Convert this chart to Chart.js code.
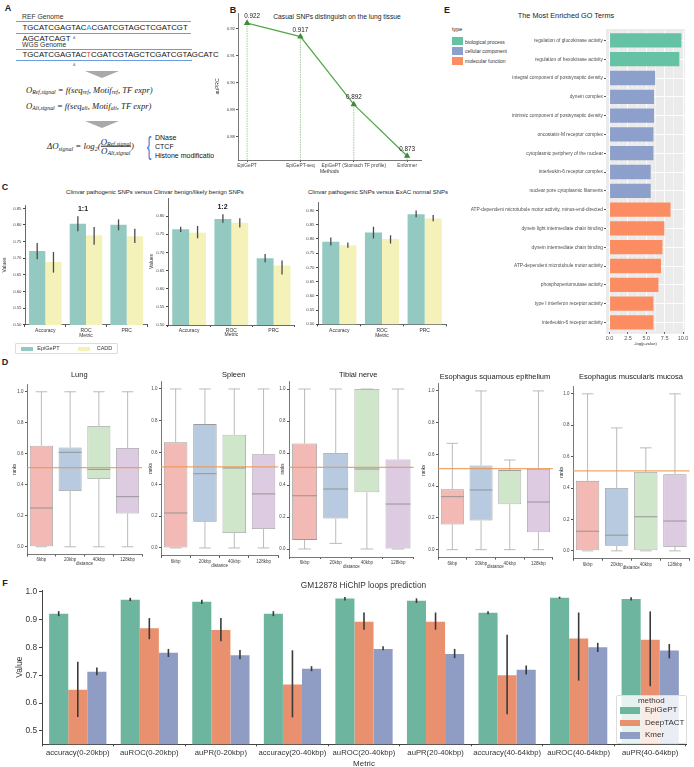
<!DOCTYPE html>
<html>
<head>
<meta charset="utf-8">
<script src="https://cdn.jsdelivr.net/npm/chart.js@4.4.0/dist/chart.umd.min.js"></script>
<style>
  body { margin: 0; background: #fff; width: 694px; height: 767px; position: relative; overflow: hidden;
         font-family: "Liberation Sans", Arial, sans-serif; color: #222; }
  .abs { position: absolute; white-space: nowrap; line-height: 1; }
  canvas { position: absolute; }
  .fm { font-family: "Liberation Serif", "DejaVu Serif", serif; font-style: italic; }
  .fm sub { font-size: 0.68em; vertical-align: -0.3em; line-height: 0; }
  .frac { display: inline-flex; flex-direction: column; vertical-align: middle; text-align: center; }
  .frac > span:last-child { border-top: 0.7px solid #222; }
</style>
</head>
<body>
<script>
// ---------- data ----------
// B: causal SNPs, lung tissue
const bMethods = ['EpiGePT', 'EpiGePT-seq', 'EpiGePT (Stomach TF profile)', 'Enformer'];
const bAuprc = [0.922, 0.917, 0.892, 0.873];
const bTicks = [0.88, 0.89, 0.90, 0.91, 0.92];

// C: Clinvar comparisons (bar height, [low, high] error bar)
const cMetrics = ['Accuracy', 'ROC', 'PRC'];
const cTicks11 = [0.50, 0.55, 0.60, 0.65, 0.70, 0.75, 0.80, 0.85];
const cTicks12 = [0.50, 0.55, 0.60, 0.65, 0.70, 0.75, 0.80];
const cTicksEx = [0.50, 0.55, 0.60, 0.65, 0.70, 0.75, 0.80, 0.85, 0.90];
const c11Epi = [0.722, 0.804, 0.801];
const c11EpiErr = [[0.697, 0.746], [0.781, 0.826], [0.784, 0.817]];
const c11Cadd = [0.689, 0.769, 0.766];
const c11CaddErr = [[0.657, 0.719], [0.741, 0.794], [0.746, 0.789]];
const c12Epi = [0.764, 0.792, 0.684];
const c12EpiErr = [[0.756, 0.771], [0.782, 0.805], [0.673, 0.696]];
const c12Cadd = [0.754, 0.782, 0.664];
const c12CaddErr = [[0.739, 0.773], [0.769, 0.794], [0.639, 0.678]];
const cExEpi = [0.790, 0.823, 0.887];
const cExEpiErr = [[0.777, 0.805], [0.802, 0.843], [0.876, 0.900]];
const cExCadd = [0.778, 0.800, 0.872];
const cExCaddErr = [[0.769, 0.788], [0.784, 0.813], [0.862, 0.884]];

// D: rank box plots, [lower whisker, q1, median, q3, upper whisker]
const dDist = ['6kbp', '20kbp', '40kbp', '128kbp'];
const dTicks = [0, 0.2, 0.4, 0.6, 0.8, 1.0];
const dRef = 0.51;
const dLung = [[0, 0, 0.25, 0.652, 1], [0, 0.36, 0.609, 0.641, 1], [0, 0.437, 0.499, 0.779, 1], [0, 0.215, 0.323, 0.637, 1]];
const dSpleen = [[0, 0, 0.22, 0.664, 1], [0, 0.165, 0.467, 0.779, 1], [0, 0.094, 0.503, 0.712, 1], [0, 0.119, 0.34, 0.59, 1]];
const dTibial = [[0, 0.057, 0.333, 0.66, 1], [0.035, 0.19, 0.375, 0.6, 1], [0, 0.354, 0.5, 1, 1], [0, 0, 0.281, 0.56, 1]];
const dSquamous = [[0, 0.158, 0.334, 0.38, 0.67], [0, 0.183, 0.376, 0.53, 1], [0, 0.286, 0.5, 0.5, 0.565], [0, 0.11, 0.3, 0.508, 1]];
const dMuscularis = [[0, 0, 0.125, 0.446, 1], [0, 0.032, 0.1, 0.401, 0.783], [0, 0, 0.217, 0.503, 0.656], [0, 0.025, 0.19, 0.488, 1]];

// E: GO terms, -log(p-value); type 0 biological process, 1 cellular component, 2 molecular function
const eTerms = [
  'regulation of glucokinase activity', 'regulation of hexokinase activity',
  'integral component of postsynaptic density', 'dynein complex',
  'intrinsic component of postsynaptic density', 'oncostatin-M receptor complex',
  'cytoplasmic periphery of the nuclear', 'interleukin-6 receptor complex',
  'nuclear pore cytoplasmic filaments', 'ATP-dependent microtubule motor activity, minus-end-directed',
  'dynein light intermediate chain binding', 'dynein intermediate chain binding',
  'ATP-dependent microtubule motor activity', 'phosphopentomutase activity',
  'type I interferon receptor activity', 'interleukin-6 receptor activity'
];
const eScore = [9.78, 9.5, 6.2, 6.05, 6.05, 5.97, 5.97, 5.6, 5.6, 8.3, 7.45, 7.2, 7.0, 6.65, 5.97, 5.97];
const eType = [0, 0, 1, 1, 1, 1, 1, 1, 1, 2, 2, 2, 2, 2, 2, 2];
const eTypeNames = ['biological process', 'cellular component', 'molecular function'];
const eTicks = [0, 2.5, 5, 7.5, 10];

// F: HiChIP loops
const fMetrics = ['accuracy(0-20kbp)', 'auROC(0-20kbp)', 'auPR(0-20kbp)', 'accuracy(20-40kbp)', 'auROC(20-40kbp)',
  'auPR(20-40kbp)', 'accuracy(40-64kbp)', 'auROC(40-64kbp)', 'auPR(40-64kbp)'];
const fTicks = [0.5, 0.6, 0.7, 0.8, 0.9, 1.0];
const fEpi = [0.922, 0.972, 0.965, 0.922, 0.976, 0.968, 0.925, 0.979, 0.975];
const fEpiErr = [[0.913, 0.931], [0.967, 0.979], [0.957, 0.972], [0.913, 0.931], [0.969, 0.982], [0.960, 0.977], [0.920, 0.931], [0.976, 0.983], [0.969, 0.981]];
const fDeep = [0.648, 0.869, 0.863, 0.667, 0.893, 0.893, 0.700, 0.833, 0.828];
const fDeepErr = [[0.55, 0.749], [0.83, 0.906], [0.823, 0.906], [0.549, 0.79], [0.864, 0.926], [0.864, 0.926], [0.56, 0.846], [0.681, 0.926], [0.661, 0.93]];
const fKmer = [0.713, 0.781, 0.772, 0.724, 0.795, 0.777, 0.720, 0.801, 0.789];
const fKmerErr = [[0.70, 0.728], [0.766, 0.795], [0.758, 0.791], [0.715, 0.733], [0.79, 0.805], [0.762, 0.795], [0.703, 0.735], [0.784, 0.817], [0.761, 0.813]];

// ---------- helpers ----------
Chart.defaults.font.family = '"Liberation Sans", Arial, sans-serif';
Chart.defaults.color = '#444';
Chart.defaults.animation = false;
Chart.defaults.responsive = false;
Chart.defaults.maintainAspectRatio = false;
Chart.defaults.plugins.legend.display = false;
Chart.defaults.plugins.tooltip.enabled = false;

function txt(x, y, html, size, opt = {}) {
  const d = document.createElement('div');
  d.className = 'abs' + (opt.cls ? ' ' + opt.cls : '');
  d.innerHTML = html;
  d.style.fontSize = size + 'px';
  d.style.left = x + 'px';
  d.style.top = y + 'px';
  const al = opt.align || 'center';
  d.style.transform = 'translate(' + (al === 'center' ? '-50%' : al === 'right' ? '-100%' : '0') + ',-50%)';
  if (opt.bold) d.style.fontWeight = 'bold';
  if (opt.color) d.style.color = opt.color;
  if (opt.css) d.style.cssText += opt.css;
  document.body.appendChild(d);
  return d;
}
function box(x, y, w, h, css) {
  const d = document.createElement('div');
  d.style.cssText = 'position:absolute;left:' + x + 'px;top:' + y + 'px;width:' + w + 'px;height:' + h + 'px;' + css;
  document.body.appendChild(d);
}

// chart area is placed exactly at area; pad = room for axes around it
function mk(area, pad, config) {
  const c = document.createElement('canvas');
  const w = Math.ceil(area.w + pad.l + pad.r), h = Math.ceil(area.h + pad.t + pad.b);
  c.width = w; c.height = h;
  c.style.width = w + 'px'; c.style.height = h + 'px';
  c.style.left = (area.x - pad.l) + 'px'; c.style.top = (area.y - pad.t) + 'px';
  document.body.appendChild(c);
  const o = config.options;
  o.layout = { padding: { left: 0, top: pad.t, right: w - pad.l - area.w, bottom: h - pad.t - area.h - pad.b } };
  for (const k in o.scales) {
    o.scales[k].afterFit = s => { if (s.isHorizontal()) s.height = pad.b; else s.width = pad.l; };
  }
  return new Chart(c, config);
}
const yTitle = (text, size, cx, area, pad) => ({ display: true, text, font: { size }, color: '#333',
  padding: { top: cx - (area.x - pad.l) - size * 0.6, bottom: 0 } });
const xTitle = (text, size, cy, area, pad) => ({ display: true, text, font: { size }, color: '#333',
  padding: { top: 0, bottom: area.y + area.h + pad.b - cy - size * 0.6 } });
const fixTicks = vals => s => { s.ticks = vals.map(v => ({ value: v })); };

const errPlugin = {
  id: 'err',
  afterDatasetsDraw(chart, args, opts) {
    const { ctx } = chart, y = chart.scales.y;
    chart.data.datasets.forEach((ds, di) => {
      if (!ds.err) return;
      ctx.save();
      ctx.strokeStyle = opts.color || '#444';
      ctx.lineWidth = opts.width || 1.4;
      chart.getDatasetMeta(di).data.forEach((bar, i) => {
        ctx.beginPath();
        ctx.moveTo(bar.x, y.getPixelForValue(ds.err[i][0]));
        ctx.lineTo(bar.x, y.getPixelForValue(ds.err[i][1]));
        ctx.stroke();
      });
      ctx.restore();
    });
  }
};

// ---------- panel A (diagram, html) ----------
txt(8, 8, 'A', 9, { bold: true });
txt(22, 16.7, 'REF Genome', 6.8, { align: 'left', color: '#333' });
box(16, 20.7, 175, 1.3, 'background:#6b9be0');
txt(22.5, 28.3, 'TGCATCGAGTAC<span style="color:#2d9ddc">A</span>CGATCGTAGCTCGATCGT', 7.8, { align: 'left', color: '#111' });
box(16, 32.7, 175, 1.3, 'background:#6b9be0');
txt(22.5, 39, 'AGCATCAGT', 7.8, { align: 'left', color: '#111' });
txt(73, 38.5, 'A', 3.5, { align: 'left', color: '#777' });
txt(22, 45, 'WGS Genome', 6.8, { align: 'left', color: '#333' });
box(16, 48.7, 176, 1.3, 'background:#6b9be0');
txt(22.5, 55, 'TGCATCGAGTAC<span style="color:#e5463c">T</span>CGATCGTAGCTCGATCGTAGCATC', 7.8, { align: 'left', color: '#111' });
box(16, 60.1, 176, 1.3, 'background:#6b9be0');
txt(73, 66, 'A', 3.5, { align: 'left', color: '#777' });
box(85, 70.7, 0, 0, 'border-left:17px solid transparent;border-right:17px solid transparent;border-top:7px solid #a9a9a9');
txt(26, 90, '<i>O</i><sub>Ref,signal</sub> = <i>f</i>(<i>seq</i><sub>ref</sub>, <i>Motif</i><sub>ref</sub>, <i>TF expr</i>)', 8.6, { align: 'left', cls: 'fm' });
txt(26, 106, '<i>O</i><sub>Alt,signal</sub> = <i>f</i>(<i>seq</i><sub>alt</sub>, <i>Motif</i><sub>alt</sub>, <i>TF expr</i>)', 8.6, { align: 'left', cls: 'fm' });
box(85, 120.7, 0, 0, 'border-left:17px solid transparent;border-right:17px solid transparent;border-top:7px solid #a9a9a9');
txt(47, 146.5, 'Δ<i>O</i><sub>signal</sub> = log<sub>2</sub>(<span class="frac"><span><i>O</i><sub>Ref,signal</sub></span><span><i>O</i><sub>Alt,signal</sub></span></span>)', 8.8, { align: 'left', cls: 'fm' });
txt(149, 145.5, '{', 25, { color: '#3b87d8', css: 'font-weight:200;transform:translate(-50%,-50%) scaleX(0.55)' });
txt(155, 136.7, 'DNase', 7, { align: 'left', color: '#111' });
txt(155, 146, 'CTCF', 7, { align: 'left', color: '#111' });
txt(155, 155, 'Histone modification', 7, { align: 'left', color: '#111', css: 'overflow:hidden;width:59px' });

// ---------- panel B ----------
txt(233, 10, 'B', 9, { bold: true });
txt(337, 17, 'Casual SNPs distinguish on the lung tissue', 6.7, { color: '#222' });
{
  const area = { x: 238, y: 13, w: 183, h: 147 }, pad = { l: 24, t: 6, r: 14, b: 16 };
  const bLabels = {
    id: 'bLabels',
    beforeDatasetsDraw(chart) {
      const { ctx, chartArea } = chart;
      ctx.save();
      ctx.strokeStyle = 'rgba(95,170,85,0.6)'; ctx.lineWidth = 1; ctx.setLineDash([1.5, 1]);
      chart.getDatasetMeta(0).data.forEach(p => {
        ctx.beginPath(); ctx.moveTo(p.x, p.y); ctx.lineTo(p.x, chartArea.bottom); ctx.stroke();
      });
      ctx.restore();
    },
    afterDatasetsDraw(chart) {
      const { ctx } = chart;
      ctx.save();
      ctx.fillStyle = '#222'; ctx.font = '6.3px "Liberation Sans", Arial'; ctx.textAlign = 'center'; ctx.textBaseline = 'bottom';
      chart.getDatasetMeta(0).data.forEach((p, i) => ctx.fillText(bAuprc[i].toFixed(3), p.x + (i === 0 ? 5 : 0), p.y - 3.5));
      ctx.restore();
    }
  };
  mk(area, pad, {
    type: 'line',
    data: { datasets: [{ data: bAuprc.map((v, i) => ({ x: i, y: v })), borderColor: '#55a84b', borderWidth: 1.3,
      pointStyle: 'triangle', pointRadius: 2.4, pointBackgroundColor: '#3e8c37', pointBorderColor: '#3e8c37', tension: 0 }] },
    options: {
      clip: false,
      scales: {
        x: { type: 'linear', min: -0.17, max: 3.26, afterBuildTicks: fixTicks([0, 1, 2, 3]),
          ticks: { callback: v => bMethods[v], font: { size: 4.8 }, color: '#444', padding: 1, maxRotation: 0, autoSkip: false },
          grid: { drawOnChartArea: false, tickLength: 2, color: '#555' }, border: { color: '#555', width: 0.8 },
          title: xTitle('Methods', 5, 172, area, pad) },
        y: { min: 0.8715, max: 0.9257, afterBuildTicks: fixTicks(bTicks),
          ticks: { callback: v => v.toFixed(2), font: { size: 4.3 }, color: '#444', padding: 1 },
          grid: { drawOnChartArea: false, tickLength: 2, color: '#555' }, border: { color: '#555', width: 0.8 },
          title: yTitle('auPRC', 5, 218, area, pad) }
      }
    },
    plugins: [bLabels]
  });
}

// ---------- panel E ----------
txt(447, 10, 'E', 9, { bold: true });
txt(566, 16, 'The Most Enriched GO Terms', 7.3, { color: '#222' });
const eColors = ['#66c2a5', '#8da0cb', '#fc8d62'];
txt(452, 30, 'type', 5.5, { align: 'left', color: '#222' });
eTypeNames.forEach((n, i) => {
  box(452, 37.3 + i * 9.8, 11, 8, 'background:' + eColors[i]);
  txt(465, 41.5 + i * 9.9, n, 5, { align: 'left', color: '#333' });
});
{
  const area = { x: 606, y: 30.6, w: 79, h: 300.8 }, pad = { l: 152, t: 4, r: 8, b: 16 };
  const eBg = {
    id: 'eBg',
    beforeDraw(chart) {
      const { ctx, chartArea: a } = chart;
      ctx.save(); ctx.fillStyle = '#ebebeb';
      ctx.fillRect(a.left, a.top - 2, a.right - a.left, a.bottom - a.top + 4);
      ctx.restore();
    }
  };
  mk(area, pad, {
    type: 'bar',
    data: { labels: eTerms, datasets: [{ data: eScore, backgroundColor: eType.map(t => eColors[t]),
      barPercentage: 0.76, categoryPercentage: 1 }] },
    options: {
      indexAxis: 'y',
      scales: {
        x: { min: -0.49, max: 10.27, afterBuildTicks: fixTicks([0, 1.25, 2.5, 3.75, 5, 6.25, 7.5, 8.75, 10]),
          ticks: { callback: v => eTicks.includes(v) ? v.toFixed(1) : '', font: { size: 5.5 }, color: '#555', padding: 1, maxRotation: 0, autoSkip: false },
          grid: { color: '#fff', lineWidth: c => (c.tick && eTicks.includes(c.tick.value)) ? 0.9 : 0.45, tickLength: 2,
            tickColor: c => (c.tick && eTicks.includes(c.tick.value)) ? '#444' : 'rgba(0,0,0,0)' },
          border: { display: false },
          title: xTitle('-log(p-value)', 4, 343, area, pad) },
        y: { ticks: { font: { size: 4.8 }, color: '#4d4d4d', padding: 1, autoSkip: false },
          grid: { color: '#fff', offset: false, lineWidth: 0.9, tickLength: 2, tickColor: '#444' },
          border: { display: false } }
      }
    },
    plugins: [eBg]
  });
}

// ---------- panel C ----------
txt(5, 186.5, 'C', 9, { bold: true });
txt(155, 192.3, 'Clinvar pathogenic SNPs versus Clinvar benign/likely benign SNPs', 6, { color: '#222' });
txt(378, 192.3, 'Clinvar pathogenic SNPs versus ExAC normal SNPs', 6, { color: '#222' });
const cEpiColor = '#93c9c0', cCaddColor = '#f4f2b9';
function cChart(area, ymax, ticks, epi, epiErr, cadd, caddErr, valuesX) {
  const pad = { l: 24, t: 8, r: 4, b: 14 };
  mk(area, pad, {
    type: 'bar',
    data: { labels: cMetrics, datasets: [
      { label: 'EpiGePT', data: epi, err: epiErr, backgroundColor: cEpiColor },
      { label: 'CADD', data: cadd, err: caddErr, backgroundColor: cCaddColor }
    ] },
    options: {
      datasets: { bar: { categoryPercentage: 0.8, barPercentage: 1 } },
      plugins: { err: { color: '#4a4a4a', width: 1.3 } },
      scales: {
        x: { ticks: { font: { size: 5 }, color: '#333', padding: 1, maxRotation: 0, autoSkip: false },
          grid: { drawOnChartArea: false, tickLength: 2, color: '#444' }, border: { color: '#444', width: 0.8 },
          title: xTitle('Metric', 5, 335, area, pad) },
        y: { min: 0.5, max: ymax, afterBuildTicks: fixTicks(ticks),
          ticks: { callback: v => v.toFixed(2), font: { size: 4.3 }, color: '#444', padding: 1.5 },
          grid: { drawOnChartArea: false, tickLength: 2, color: '#444' }, border: { color: '#444', width: 0.8 },
          title: valuesX ? yTitle('Values', 5, valuesX, area, pad) : { display: false } }
      }
    },
    plugins: [errPlugin]
  });
}
cChart({ x: 25, y: 204.6, w: 122, h: 119.9 }, 0.86, cTicks11, c11Epi, c11EpiErr, c11Cadd, c11CaddErr, 5);
cChart({ x: 168.3, y: 198, w: 126.7, h: 127 }, 0.85, cTicks12, c12Epi, c12EpiErr, c12Cadd, c12CaddErr, 151.7);
cChart({ x: 318, y: 201.7, w: 128, h: 122.3 }, 0.93, cTicksEx, cExEpi, cExEpiErr, cExCadd, cExCaddErr, null);
txt(83, 207.7, '1:1', 7, { bold: true, color: '#222' });
txt(222.5, 205.7, '1:2', 7, { bold: true, color: '#222' });
box(15, 342.7, 102.7, 11.3, 'border:0.7px solid #ddd;border-radius:1px;box-sizing:border-box');
box(20.7, 346.5, 12, 4.5, 'background:' + cEpiColor);
txt(37.3, 348.5, 'EpiGePT', 5.5, { align: 'left', color: '#333' });
box(77.7, 346.5, 12, 4.5, 'background:' + cCaddColor);
txt(96.7, 348.5, 'CADD', 5.5, { align: 'left', color: '#333' });

// ---------- panel D ----------
txt(5, 362, 'D', 9, { bold: true });
const dColors = ['#f2b9b5', '#b7cadf', '#cfe6ca', '#ddcbe1'];
const boxPlugin = {
  id: 'boxes',
  afterDatasetsDraw(chart) {
    const { ctx, chartArea } = chart, y = chart.scales.y;
    const ds = chart.data.datasets[0];
    const py = v => y.getPixelForValue(v);
    ctx.save();
    chart.getDatasetMeta(0).data.forEach((bar, i) => {
      const [lo, q1, med, q3, hi] = ds.stats[i];
      const x = bar.x, hw = bar.width / 4;
      ctx.strokeStyle = '#b3b3b3'; ctx.lineWidth = 0.9;
      ctx.beginPath();
      ctx.moveTo(x, py(q3)); ctx.lineTo(x, py(hi));
      ctx.moveTo(x - hw, py(hi)); ctx.lineTo(x + hw, py(hi));
      ctx.moveTo(x, py(q1)); ctx.lineTo(x, py(lo));
      ctx.moveTo(x - hw, py(lo)); ctx.lineTo(x + hw, py(lo));
      ctx.stroke();
      ctx.strokeStyle = '#8f8f8f';
      ctx.beginPath();
      ctx.moveTo(x - bar.width / 2, py(med)); ctx.lineTo(x + bar.width / 2, py(med));
      ctx.stroke();
    });
    ctx.strokeStyle = 'rgba(236,150,80,0.85)'; ctx.lineWidth = 1.2;
    ctx.beginPath(); ctx.moveTo(chartArea.left, py(dRef)); ctx.lineTo(chartArea.right, py(dRef)); ctx.stroke();
    ctx.restore();
  }
};
function dChart(area, stats, ranksX) {
  const pad = { l: 20, t: 8, r: 4, b: 14 };
  mk(area, pad, {
    type: 'bar',
    data: { labels: dDist, datasets: [{ data: stats.map(s => [s[1], s[3]]), stats, backgroundColor: dColors,
      borderColor: '#9a9a9a', borderWidth: 0.8, borderSkipped: false, barPercentage: 0.8, categoryPercentage: 1 }] },
    options: {
      scales: {
        x: { ticks: { font: { size: 4.5 }, color: '#444', padding: 1, maxRotation: 0, autoSkip: false },
          grid: { drawOnChartArea: false, tickLength: 2, color: '#555' }, border: { color: '#555', width: 0.8 },
          title: xTitle('distance', 4.5, area.y + area.h + 9.5, area, pad) },
        y: { min: -0.05, max: 1.05, afterBuildTicks: fixTicks(dTicks),
          ticks: { callback: v => v.toFixed(1), font: { size: 4.5 }, color: '#444', padding: 1.5 },
          grid: { drawOnChartArea: false, tickLength: 2, color: '#555' }, border: { color: '#555', width: 0.8 },
          title: yTitle('ranks', 4.5, ranksX, area, pad) }
      }
    },
    plugins: [boxPlugin]
  });
}
dChart({ x: 27, y: 384, w: 115, h: 170.5 }, dLung, 15);
dChart({ x: 160.5, y: 381.35, w: 117.2, h: 174.9 }, dSpleen, 150);
dChart({ x: 289.4, y: 381, w: 124.6, h: 176 }, dTibial, 283);
dChart({ x: 437.7, y: 383, w: 114.8, h: 174.6 }, dSquamous, 423);
dChart({ x: 573, y: 385.85, w: 116.5, h: 172.7 }, dMuscularis, 561.7);
txt(79.3, 375, 'Lung', 7.5, { color: '#222' });
txt(233.7, 375, 'Spleen', 7.5, { color: '#222' });
txt(358.3, 375, 'Tibial nerve', 7.5, { color: '#222' });
txt(495, 377, 'Esophagus squamous epithelium', 7.5, { color: '#222' });
txt(631, 377, 'Esophagus muscularis mucosa', 7.5, { color: '#222' });

// ---------- panel F ----------
txt(5, 583, 'F', 9, { bold: true });
txt(363.5, 585, 'GM12878 HiChIP loops prediction', 8.3, { color: '#333' });
const fColors = ['#6db59e', '#e9916f', '#8f9cc4'];
{
  const area = { x: 42, y: 589.7, w: 644, h: 154.3 }, pad = { l: 40, t: 10, r: 6, b: 25 };
  mk(area, pad, {
    type: 'bar',
    data: { labels: fMetrics, datasets: [
      { label: 'EpiGePT', data: fEpi, err: fEpiErr, backgroundColor: fColors[0] },
      { label: 'DeepTACT', data: fDeep, err: fDeepErr, backgroundColor: fColors[1] },
      { label: 'Kmer', data: fKmer, err: fKmerErr, backgroundColor: fColors[2] }
    ] },
    options: {
      datasets: { bar: { categoryPercentage: 0.8, barPercentage: 1 } },
      plugins: { err: { color: '#3a3a3a', width: 1.6 } },
      scales: {
        x: { ticks: { font: { size: 7.7 }, color: '#333', padding: 2, maxRotation: 0, autoSkip: false },
          grid: { drawOnChartArea: false, tickLength: 2, color: '#444' }, border: { color: '#444', width: 1 },
          title: xTitle('Metric', 8, 763, area, pad) },
        y: { min: 0.452, max: 1.007, afterBuildTicks: fixTicks(fTicks),
          ticks: { callback: v => v.toFixed(1), font: { size: 8.3 }, color: '#333', padding: 2 },
          grid: { drawOnChartArea: false, tickLength: 3, color: '#444' }, border: { color: '#444', width: 1 },
          title: yTitle('Value', 8.5, 20, area, pad) }
      }
    },
    plugins: [errPlugin]
  });
}
box(616, 695, 70.7, 49, 'background:rgba(255,255,255,0.82);border:0.7px solid #ddd;border-radius:2px;box-sizing:border-box');
txt(651.3, 700.7, 'method', 8, { color: '#333' });
['EpiGePT', 'DeepTACT', 'Kmer'].forEach((n, i) => {
  box(620, 707 + i * 12.5, 20, 6.5, 'background:' + fColors[i]);
  txt(645, 710.3 + i * 12.5, n, 8, { align: 'left', color: '#333' });
});
</script>
</body>
</html>
